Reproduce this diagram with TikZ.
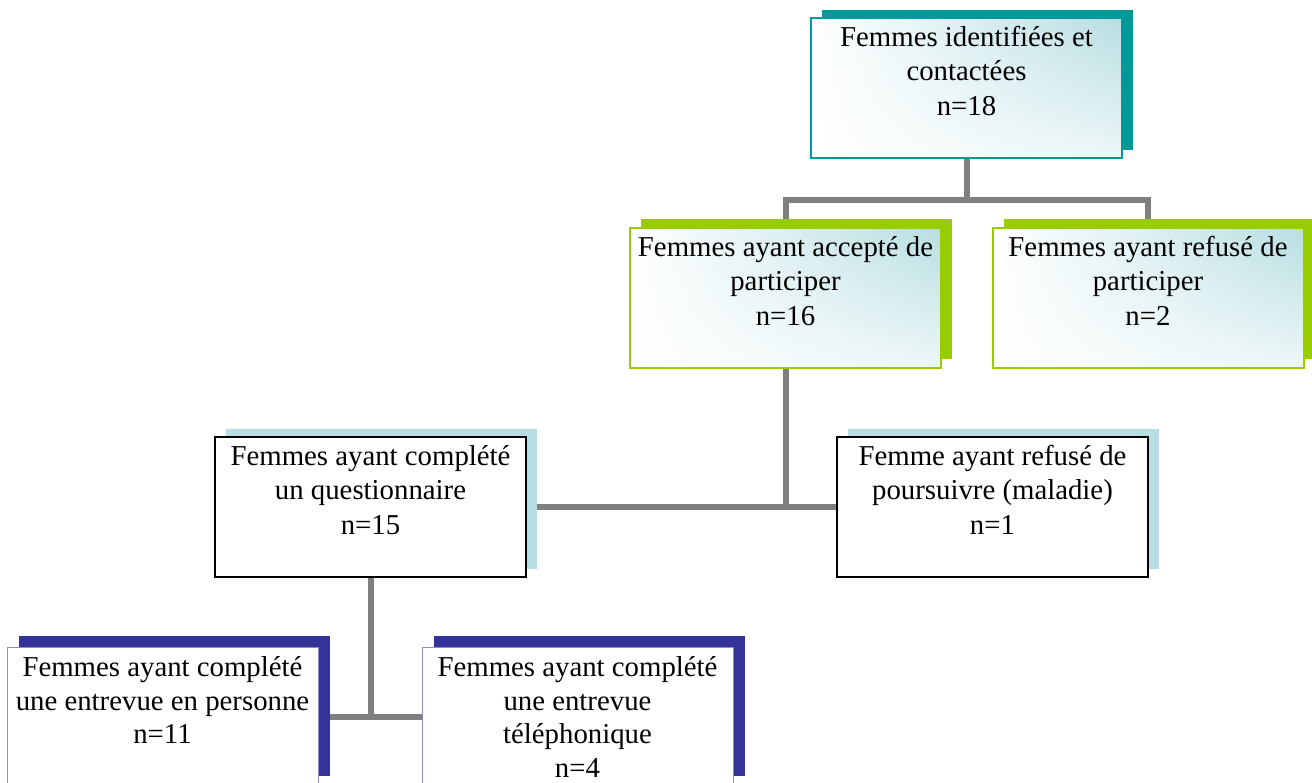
\documentclass[tikz,border=0pt]{standalone}
\usepackage{fontspec}
\setmainfont{Liberation Serif}
\usetikzlibrary{shadows, shadings, backgrounds}
\tikzstyle{chart} = [x = 1pt, y = -1pt]
\definecolor{tealColor}{RGB}{0,153,153}
\definecolor{limeColor}{RGB}{153,204,0}
\definecolor{paleBlue}{RGB}{183,222,226}
\definecolor{navyColor}{RGB}{51,51,153}
\definecolor{linkColor}{RGB}{128,128,128}
\tikzstyle{boxStyle} = [rectangle, minimum width = 311pt, minimum height = 140pt, inner xsep = 1pt, inner ysep = 0pt, align = center, font = \fontsize{28.8}{34.5}\selectfont, execute at begin node = \rule{0pt}{22pt}]
\tikzstyle{gradFill} = [upper left = white, lower left = white, upper right = paleBlue, lower right = paleBlue!25]
\tikzstyle{tealBox} = [boxStyle, gradFill, draw = tealColor, line width = 2pt, general shadow = {fill = tealColor, shadow xshift = 11pt, shadow yshift = 8pt}]
\tikzstyle{limeBox} = [boxStyle, gradFill, draw = limeColor, line width = 2pt, general shadow = {fill = limeColor, shadow xshift = 11pt, shadow yshift = 9pt}]
\tikzstyle{plainBox} = [boxStyle, fill = white, draw = black, line width = 2pt, general shadow = {fill = paleBlue, shadow xshift = 11pt, shadow yshift = 8pt}]
\tikzstyle{navyBox} = [boxStyle, fill = white, draw = navyColor!55, line width = 1pt, font = \fontsize{28.8}{33.4}\selectfont, general shadow = {fill = navyColor, shadow xshift = 12pt, shadow yshift = 11pt}]
\tikzstyle{link} = [draw = linkColor, line width = 6pt]

\begin{document}
\begin{tikzpicture}[chart]
  \useasboundingbox (0,0) rectangle (1312,782);
  \node [tealBox] (top) at (966.5,88) {Femmes identifiées et\\contactées\\n=18\\\mbox{}};
  \node [limeBox] (accept) at (785.5,298) {Femmes ayant accepté de\\participer\\n=16\\\mbox{}};
  \node [limeBox] (refuse) at (1148,298) {Femmes ayant refusé de\\participer\\n=2\\\mbox{}};
  \node [plainBox] (quest) at (370.5,507) {Femmes ayant complété\\un questionnaire\\n=15\\\mbox{}};
  \node [plainBox] (quit) at (992.5,507) {Femme ayant refusé de\\poursuivre (maladie)\\n=1\\\mbox{}};
  \node [navyBox] (inPerson) at (162.5,717) {Femmes ayant complété\\une entrevue en personne\\n=11\\\mbox{}};
  \node [navyBox] (phone) at (577.5,717) {Femmes ayant complété\\une entrevue\\téléphonique\\n=4};
  % connectors behind the boxes
  \begin{scope}[on background layer]
    \draw [link] (top.south) -- ++(0,41) coordinate (topFork);
    \draw [link] (accept.north) |- (topFork) -| (refuse.north);
    \draw [link] (accept.south) |- (quest.east);
    \draw [link] (quest.east) -- (quit.west);
    \draw [link] (quest.south) |- (inPerson.east);
    \draw [link] (inPerson.east) -- (phone.west);
  \end{scope}
\end{tikzpicture}
\end{document}
